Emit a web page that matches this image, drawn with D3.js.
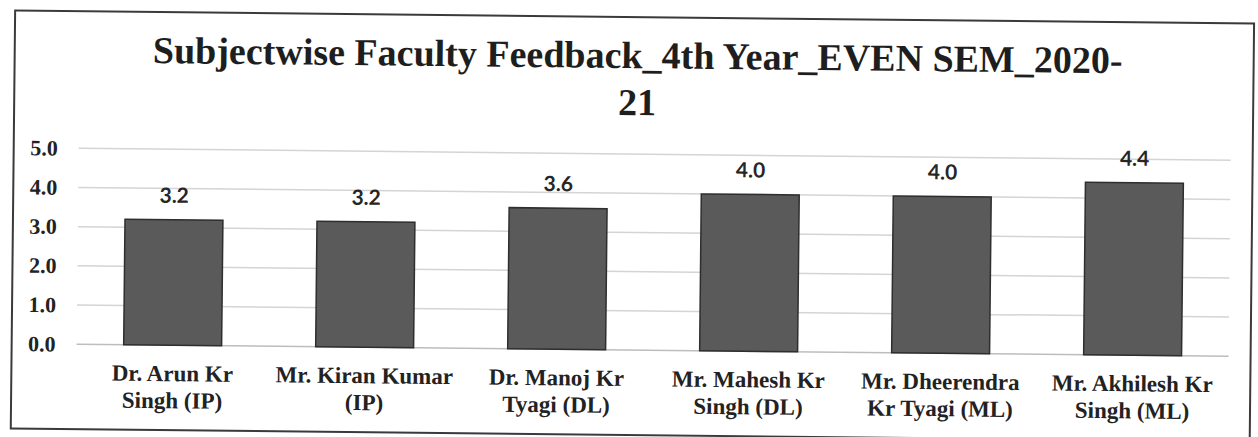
<!DOCTYPE html>
<html>
<head>
<meta charset="utf-8">
<script src="https://cdn.jsdelivr.net/npm/d3@7"></script>
<style>
  body { margin: 0; background: #fff; }
  svg { display: block; }
</style>
</head>
<body>
<div id="chart"></div>
<script>
// chart data
const titleLines = ["Subjectwise Faculty Feedback_4th Year_EVEN SEM_2020-", "21"];
const facultyLines = [
  ["Dr. Arun Kr", "Singh (IP)"],
  ["Mr. Kiran Kumar", "(IP)"],
  ["Dr. Manoj Kr", "Tyagi (DL)"],
  ["Mr. Mahesh Kr", "Singh (DL)"],
  ["Mr. Dheerendra", "Kr Tyagi (ML)"],
  ["Mr. Akhilesh Kr", "Singh (ML)"]
];
const scores = [3.2, 3.2, 3.6, 4.0, 4.0, 4.4];
const yTicks = [0, 1, 2, 3, 4, 5];

const width = 1258, height = 437;
const plot = { left: 78, right: 1230, top: 154, bottom: 350 };
const serif = "'Liberation Serif', 'Times New Roman', serif";

const svg = d3.select("#chart").append("svg")
    .attr("width", width)
    .attr("height", height);

// the scan is tilted a little clockwise
const g = svg.append("g")
    .attr("transform", `rotate(0.6, ${width / 2}, ${height / 2})`);

g.append("rect")
    .attr("x", 13).attr("y", 17)
    .attr("width", 1239).attr("height", 418)
    .attr("fill", "#fff")
    .attr("stroke", "#3a3a3a")
    .attr("stroke-width", 2);

const x = d3.scaleBand()
    .domain(d3.range(scores.length))
    .range([plot.left, plot.right])
    .paddingInner(0.49)
    .paddingOuter(0.245);

const y = d3.scaleLinear()
    .domain([0, 5])
    .range([plot.bottom, plot.top]);

// gridlines
g.append("g")
    .selectAll("line")
    .data(yTicks)
    .join("line")
    .attr("x1", plot.left).attr("x2", plot.right)
    .attr("y1", d => y(d)).attr("y2", d => y(d))
    .attr("stroke", d => d === 0 ? "#bdbdbd" : "#d4d4d4")
    .attr("stroke-width", 1.5);

// y axis labels
const yAxis = g.append("g")
    .attr("transform", `translate(${plot.left - 18},0)`)
    .call(d3.axisLeft(y).tickValues(yTicks).tickFormat(d3.format(".1f")).tickSize(0));
yAxis.select(".domain").remove();
yAxis.selectAll("text")
    .attr("font-family", serif)
    .attr("font-weight", "bold")
    .attr("font-size", 22)
    .attr("fill", "#222")
    .attr("dy", "0.32em");

// bars
g.append("g")
    .selectAll("rect")
    .data(scores)
    .join("rect")
    .attr("x", (d, i) => x(i))
    .attr("y", d => y(d))
    .attr("width", x.bandwidth())
    .attr("height", d => y(0) - y(d))
    .attr("fill", "#5a5a5a")
    .attr("stroke", "#2e2e2e")
    .attr("stroke-width", 1.5);

// value labels
g.append("g")
    .selectAll("text")
    .data(scores)
    .join("text")
    .attr("x", (d, i) => x(i) + x.bandwidth() / 2)
    .attr("y", d => y(d) - 17)
    .attr("text-anchor", "middle")
    .attr("font-family", "Lato, 'Open Sans', sans-serif")
    .attr("font-weight", "bold")
    .attr("font-size", 21)
    .attr("fill", "#262626")
    .text(d => d.toFixed(1));

// category labels, two lines each
const xAxis = g.append("g")
    .attr("transform", `translate(0,${plot.bottom})`)
    .call(d3.axisBottom(x).tickSize(0).tickFormat(""));
xAxis.select(".domain").remove();
xAxis.selectAll(".tick text")
    .attr("font-family", serif)
    .attr("font-weight", "bold")
    .attr("font-size", 23)
    .attr("fill", "#222")
    .attr("y", 36)
    .attr("dy", 0)
    .each(function (d) {
      const t = d3.select(this);
      facultyLines[d].forEach((line, k) => {
        t.append("tspan")
          .attr("x", 0)
          .attr("dy", k === 0 ? 0 : 27)
          .text(line);
      });
    });

// title
g.append("g")
    .selectAll("text")
    .data(titleLines)
    .join("text")
    .attr("x", 636)
    .attr("y", (d, i) => 68 + i * 47)
    .attr("text-anchor", "middle")
    .attr("font-family", serif)
    .attr("font-weight", "bold")
    .attr("font-size", 38)
    .attr("fill", "#1e1e1e")
    .text(d => d);
</script>
</body>
</html>
